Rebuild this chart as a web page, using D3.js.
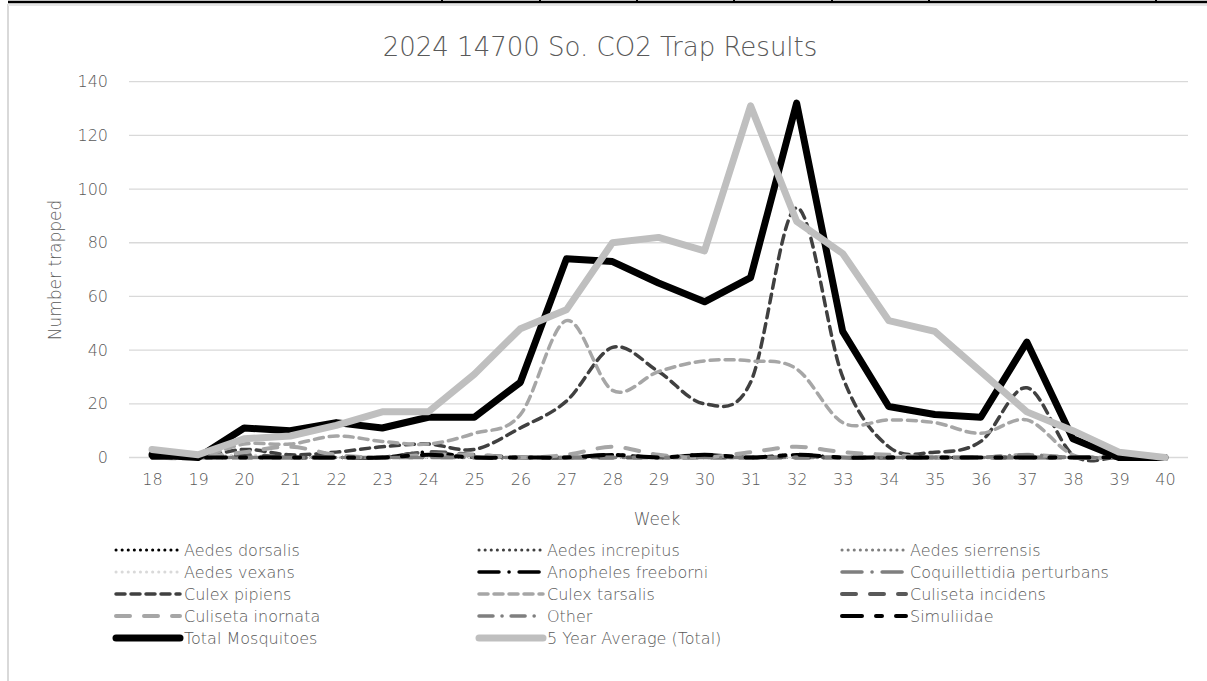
<!DOCTYPE html>
<html lang="en">
<head>
<meta charset="utf-8">
<title>2024 14700 So. CO2 Trap Results</title>
<script src="https://d3js.org/d3.v7.min.js"></script>
<style>
  body { margin: 0; background: #fff; }
  svg text { font-family: "DejaVu Sans", sans-serif; font-weight: 200; fill: #595959; }
</style>
</head>
<body>
<div id="chart"></div>
<script>
// weeks on the x axis
var weeks = ["18","19","20","21","22","23","24","25","26","27","28","29","30","31","32","33","34","35","36","37","38","39","40"];
var yTicks = [0, 20, 40, 60, 80, 100, 120, 140];

// counts per week
var aedesDorsalis   = [0,0,0,0,0,0,0,0,0,0,0,0,0,0,0,0,0,0,0,0,0,0,0];
var aedesIncrepitus = [0,0,0,0,0,0,0,0,0,0,0,0,0,0,0,0,0,0,0,0,0,0,0];
var aedesSierrensis = [0,0,0,0,0,0,0,0,0,0,0,0,0,0,0,0,0,0,0,0,0,0,0];
var aedesVexans     = [0,0,1,0,0,0,0,0,0,0,0,0,0,0,0,0,0,0,0,0,0,0,0];
var anopheles       = [0,0,0,0,0,0,2,0,0,0,1,0,1,0,1,0,0,0,0,0,0,0,0];
var coquillettidia  = [0,0,0,0,0,0,0,0,0,0,0,0,0,0,0,0,0,0,0,0,0,0,0];
var culexPipiens    = [0,0,3,1,2,4,5,3,11,21,41,32,20,28,93,30,4,2,6,26,1,0,0];
var culexTarsalis   = [0,0,5,5,8,6,5,9,16,51,25,32,36,36,33,13,14,13,9,14,1,0,0];
var culisetaIncid   = [0,0,1,0,0,0,2,1,0,0,0,0,0,0,0,0,0,0,0,0,0,0,0];
var culisetaInorn   = [0,0,2,4,1,0,1,1,0,1,4,1,0,2,4,2,1,0,0,1,0,0,0];
var other           = [0,0,0,0,0,0,0,0,0,0,0,0,0,0,0,0,0,0,0,1,0,0,0];
var simuliidae      = [0,0,0,0,0,0,1,0,0,0,1,0,1,0,1,0,0,0,0,0,0,0,0];
var totalMosq       = [1,0,11,10,13,11,15,15,28,74,73,65,58,67,132,47,19,16,15,43,7,0,0];
var fiveYearAvg     = [3,1,7,8,12,17,17,31,48,55,80,82,77,131,88,76,51,47,32,17,10,2,0];

var seriesNames = ["Aedes dorsalis","Aedes increpitus","Aedes sierrensis","Aedes vexans",
  "Anopheles freeborni","Coquillettidia perturbans","Culex pipiens","Culex tarsalis",
  "Culiseta incidens","Culiseta inornata","Other","Simuliidae","Total Mosquitoes","5 Year Average (Total)"];

var seriesValues = [aedesDorsalis, aedesIncrepitus, aedesSierrensis, aedesVexans, anopheles,
  coquillettidia, culexPipiens, culexTarsalis, culisetaIncid, culisetaInorn, other, simuliidae,
  totalMosq, fiveYearAvg];

// line look for each series (same order)
var styles = [
  {c:"#000000", w:3,   d:"0.1,6", smooth:true},
  {c:"#404040", w:3,   d:"0.1,6", smooth:true},
  {c:"#7f7f7f", w:3,   d:"0.1,6", smooth:true},
  {c:"#d9d9d9", w:3,   d:"0.1,6", smooth:true},
  {c:"#000000", w:3.5, d:"20,10,0.1,10", smooth:true},
  {c:"#7f7f7f", w:3.5, d:"20,10,0.1,10", smooth:true},
  {c:"#404040", w:3.5, d:"9,6", smooth:true},
  {c:"#a6a6a6", w:3.5, d:"9,6", smooth:true},
  {c:"#595959", w:4,   d:"14,14", smooth:true},
  {c:"#a6a6a6", w:4,   d:"14,14", smooth:true},
  {c:"#7f7f7f", w:3.5, d:"14,9,0.1,9", smooth:true},
  {c:"#000000", w:4,   d:"20,14,6,14", smooth:true},
  {c:"#000000", w:7,   d:null, smooth:false},
  {c:"#bfbfbf", w:7,   d:null, smooth:false}
];

var W = 1207, H = 681;
var svg = d3.select("#chart").append("svg").attr("width", W).attr("height", H);

// frame bits from the surrounding sheet
svg.append("line").attr("x1", 8).attr("x2", 8).attr("y1", 4).attr("y2", H)
  .attr("stroke", "#d9d9d9").attr("stroke-width", 2);
svg.append("line").attr("x1", 8).attr("x2", W).attr("y1", 5).attr("y2", 5)
  .attr("stroke", "#e6e6e6").attr("stroke-width", 2);
svg.append("line").attr("x1", 8).attr("x2", W).attr("y1", 2).attr("y2", 2)
  .attr("stroke", "#000").attr("stroke-width", 2.5);
[442, 540, 637, 734, 832, 929, 1156].forEach(function (x) {
  svg.append("line").attr("x1", x).attr("x2", x).attr("y1", 0).attr("y2", 3)
    .attr("stroke", "#000").attr("stroke-width", 2);
});

var x = d3.scalePoint().domain(weeks).range([129, 1188]).padding(0.5);
var y = d3.scaleLinear().domain([0, 140]).range([457.5, 81.7]);

// gridlines
svg.append("g").selectAll("line").data(yTicks).enter().append("line")
  .attr("x1", 129).attr("x2", 1188)
  .attr("y1", function (d) { return y(d); }).attr("y2", function (d) { return y(d); })
  .attr("stroke", "#d9d9d9").attr("stroke-width", 1.3);

// y axis labels
var yAxis = svg.append("g").attr("transform", "translate(117,0)")
  .call(d3.axisLeft(y).tickValues(yTicks).tickSize(0).tickPadding(9));
yAxis.select(".domain").remove();
yAxis.selectAll("text").attr("font-size", 16).attr("fill", "#595959")
  .style("font-family", "'DejaVu Sans', sans-serif").style("font-weight", 200);

// x axis labels
var xAxis = svg.append("g").attr("transform", "translate(0,472)")
  .call(d3.axisBottom(x).tickSize(0).tickPadding(2));
xAxis.select(".domain").remove();
xAxis.selectAll("text").attr("font-size", 16).attr("fill", "#595959")
  .style("font-family", "'DejaVu Sans', sans-serif").style("font-weight", 200);

// titles
svg.append("text").attr("x", 600).attr("y", 56).attr("text-anchor", "middle")
  .attr("font-size", 26).text("2024 14700 So. CO2 Trap Results");
svg.append("text").attr("x", 657).attr("y", 525).attr("text-anchor", "middle")
  .attr("font-size", 17).text("Week");
svg.append("text").attr("transform", "translate(61,270) rotate(-90)")
  .attr("text-anchor", "middle").attr("font-size", 17).text("Number trapped");

// series lines
var smoothLine = d3.line()
  .x(function (d, i) { return x(weeks[i]); })
  .y(function (d) { return y(d); })
  .curve(d3.curveCatmullRom.alpha(0));
var straightLine = d3.line()
  .x(function (d, i) { return x(weeks[i]); })
  .y(function (d) { return y(d); });

var plot = svg.append("g");
seriesValues.forEach(function (vals, k) {
  var s = styles[k];
  plot.append("path")
    .attr("d", s.smooth ? smoothLine(vals) : straightLine(vals))
    .attr("fill", "none")
    .attr("stroke", s.c)
    .attr("stroke-width", s.w)
    .attr("stroke-linecap", "round")
    .attr("stroke-linejoin", "round")
    .attr("stroke-dasharray", s.d);
});

// legend, three columns
var legend = svg.append("g");
seriesNames.forEach(function (name, k) {
  var col = k % 3, row = Math.floor(k / 3);
  var lx = 116 + col * 363, ly = 550 + row * 22;
  var s = styles[k];
  legend.append("line")
    .attr("x1", lx).attr("x2", lx + 64).attr("y1", ly).attr("y2", ly)
    .attr("stroke", s.c).attr("stroke-width", s.w)
    .attr("stroke-linecap", "round")
    .attr("stroke-dasharray", s.d);
  legend.append("text").attr("x", lx + 68).attr("y", ly + 6)
    .attr("font-size", 16).text(name);
});
</script>
</body>
</html>
